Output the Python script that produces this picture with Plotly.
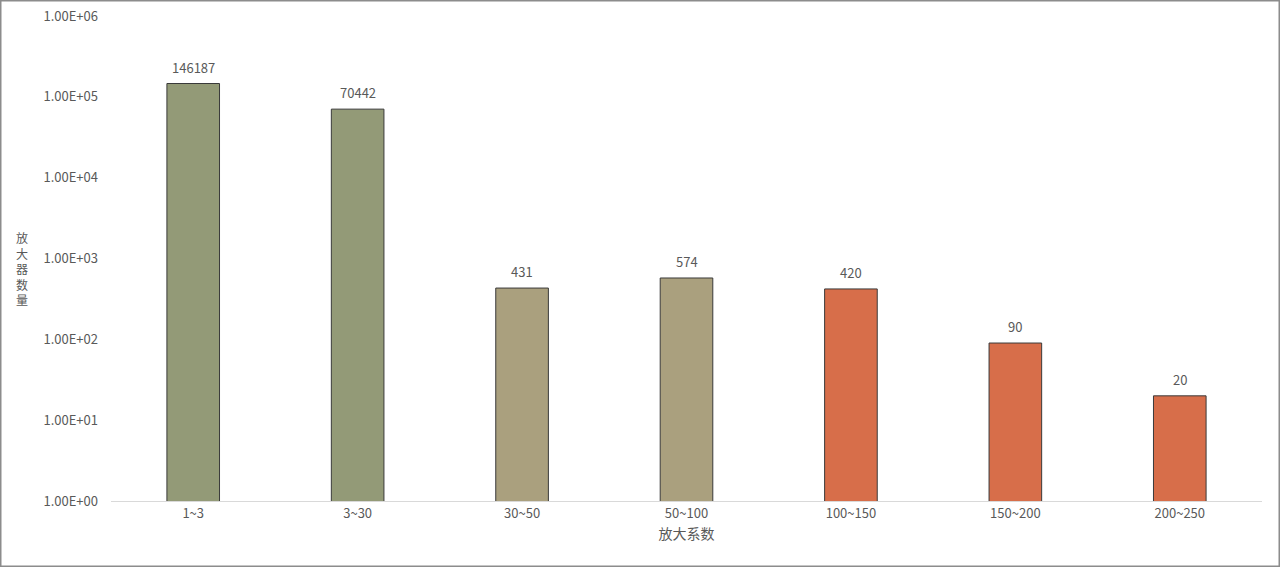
import math
import plotly.graph_objects as go

categories = ["1~3", "3~30", "30~50", "50~100", "100~150", "150~200", "200~250"]
counts = [146187, 70442, 431, 574, 420, 90, 20]
bar_colors = ["#939a77", "#939a77", "#aaa07e", "#aaa07e", "#d76e4a", "#d76e4a", "#d76e4a"]
tick_vals = [1, 10, 100, 1000, 10000, 100000, 1000000]
tick_text = ["1.00E+00", "1.00E+01", "1.00E+02", "1.00E+03", "1.00E+04", "1.00E+05", "1.00E+06"]
y_title = "放大器数量"
x_title = "放大系数"

W, H = 1280, 567
ml, mr, mt, mb = 111, 18, 16, 66
pw, ph = W - ml - mr, H - mt - mb

font_family = "Noto Sans CJK SC, Noto Sans, sans-serif"
grey = "#595959"

fig = go.Figure(go.Bar(
    x=categories, y=counts,
    marker=dict(color=bar_colors, line=dict(color="#3a3a3a", width=1)),
    width=0.32,
    hoverinfo="x+y",
))

annotations = []
for c, v in zip(categories, counts):
    annotations.append(dict(
        x=c, y=math.log10(v), xref="x", yref="y", yanchor="bottom", yshift=5,
        text=str(v), showarrow=False,
        font=dict(size=13, color=grey, family=font_family),
    ))
annotations.append(dict(
    text="<br>".join(y_title), xref="paper", yref="paper",
    x=(22 - ml) / pw, y=(H - 268 - mb) / ph, showarrow=False,
    font=dict(size=12, color=grey, family=font_family),
    xanchor="center", yanchor="middle",
))

fig.update_layout(
    width=W, height=H,
    margin=dict(l=ml, r=mr, t=mt, b=mb, autoexpand=False),
    paper_bgcolor="white", plot_bgcolor="white",
    showlegend=False,
    font=dict(family=font_family, color=grey, size=13),
    xaxis=dict(
        showgrid=False, showline=True, linecolor="#d9d9d9", linewidth=1,
        ticks="", tickfont=dict(size=13, color=grey), automargin=False,
        title=dict(text=x_title, font=dict(size=14, color=grey), standoff=8),
    ),
    yaxis=dict(
        type="log", range=[0, 6], showgrid=False, showline=False, zeroline=False,
        tickvals=tick_vals, ticktext=tick_text, ticks="", automargin=False,
        tickfont=dict(size=13, color=grey), ticklabelstandoff=12,
    ),
    annotations=annotations,
    shapes=[dict(
        type="rect", xref="paper", yref="paper",
        x0=(0.75 - ml) / pw, x1=(W - 0.75 - ml) / pw,
        y0=-(H - 0.75 - mt - ph) / ph, y1=(ph + mt - 0.75) / ph,
        line=dict(color="#8c8c8c", width=1.5), fillcolor="rgba(0,0,0,0)", layer="below",
    )],
)

fig.write_html(
    "out.html",
    config={"displayModeBar": False},
    post_script="document.body.style.margin='0px';document.body.style.overflow='hidden';",
)
